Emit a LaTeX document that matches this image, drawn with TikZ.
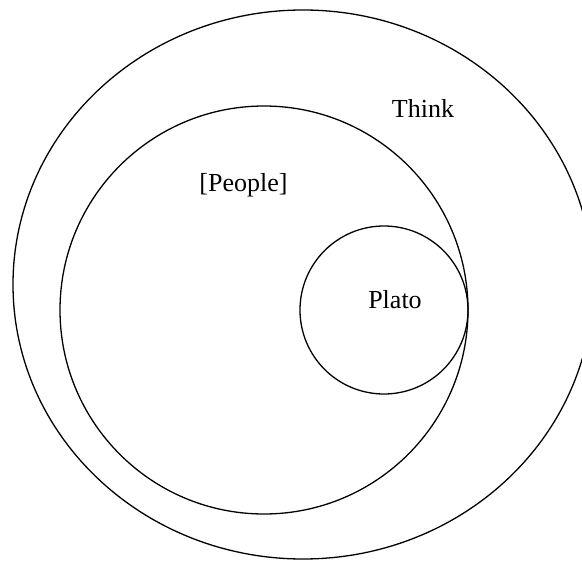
\documentclass[tikz,border=0pt]{standalone}
\usepackage{fontspec}
\setmainfont{Liberation Serif}
\usetikzlibrary{shapes.geometric}
\begin{document}
\begin{tikzpicture}[x=1pt,y=-1pt,
  ring/.style={draw=black,line width=1.3pt,inner sep=0pt,outer sep=0pt},
  lbl/.style={anchor=base,inner sep=0pt,font=\fontsize{26}{30}\selectfont}]
\useasboundingbox (0,0) rectangle (582,562);
\begin{scope}
\clip (0,0) rectangle (582,562);
\node[ring,ellipse,minimum width=580pt,minimum height=549pt] (think) at (303,284.5) {};
\end{scope}
\node[ring,circle,minimum size=408pt] (people) at (264,310) {};
\node[ring,circle,minimum size=168pt] (plato) at (384,310) {};
\node[lbl] (thinkl) at (423,117) {Think};
\node[lbl] (peoplel) at (243.5,191) {[People]};
\node[lbl] (platol) at (395,308) {Plato};
\end{tikzpicture}
\end{document}
